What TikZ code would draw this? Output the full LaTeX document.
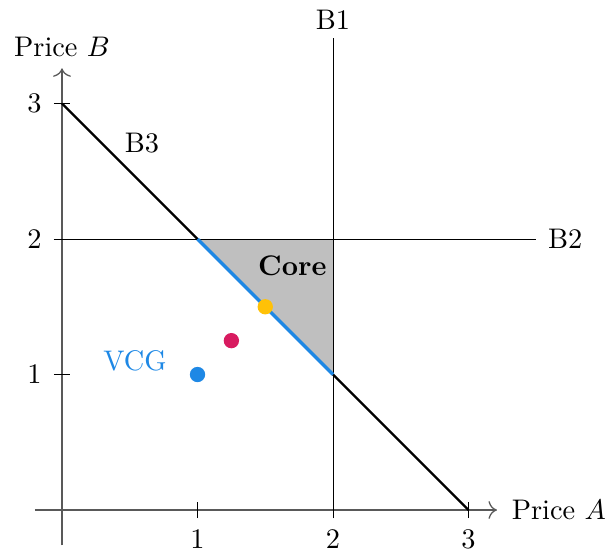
\documentclass[tikz,border=0pt]{standalone}
\usetikzlibrary{arrows.meta}
\definecolor{mblue}{RGB}{30,136,229}
\definecolor{mpink}{RGB}{216,27,96}
\definecolor{mamber}{RGB}{255,193,7}
\tikzset{
  axisline/.style={draw=black!65, line width=0.45pt, -{To[length=3pt]}},
  tickmark/.style={draw=black, line width=0.35pt},
  budget/.style={draw=black, line width=0.3pt},
  bthree/.style={draw=black, line width=0.8pt},
  dotmark/.style={circle, inner sep=0pt, minimum size=0.19cm},
}
\begin{document}
\begin{tikzpicture}[x=1.68cm, y=1.68cm]
\useasboundingbox (-0.4576,-0.3395) rectangle (4.059,3.764);
% core region
\coordinate (c12) at (1,2);
\coordinate (c22) at (2,2);
\coordinate (c21) at (2,1);
\fill[black!25] (c12) -- (c22) -- (c21) -- cycle;
% axes
\coordinate (xs) at (-0.2,0);
\coordinate (xe) at (3.21,0);
\coordinate (ys) at (0,-0.26);
\coordinate (ye) at (0,3.26);
\draw[axisline] (xs) -- (xe) node[right, inner sep=5pt] (xl) {Price $A$};
\draw[axisline] (ys) -- (ye) node[above, inner sep=4pt] (yl) {Price $B$};
% ticks
\foreach \i in {1,2,3} {
  \draw[tickmark] (\i,-0.06) -- (\i,0.06);
  \node[below, inner sep=0pt, yshift=-7pt] (xt\i) at (\i,0) {$\i$};
  \draw[tickmark] (-0.06,\i) -- (0.06,\i);
  \node[left, inner sep=0pt, xshift=-7pt] (yt\i) at (0,\i) {$\i$};
}
% budget lines
\coordinate (b1s) at (2,-0.06);
\coordinate (b1e) at (2,3.48);
\draw[budget] (b1s) -- (b1e) node[above, inner sep=3pt] (b1l) {B1};
\coordinate (b2s) at (-0.06,2);
\coordinate (b2e) at (3.5,2);
\draw[budget] (b2s) -- (b2e) node[right, inner sep=4pt] (b2l) {B2};
\coordinate (b3s) at (0,3);
\coordinate (b3e) at (3,0);
\draw[bthree] (b3s) -- (b3e);
\node (b3l) at (0.59,2.71) {B3};
% core boundary
\draw[mblue, line width=1.2pt] (c12) -- (c21);
\node[font=\bfseries] (core) at (1.70,1.80) {Core};
% points
\node[dotmark, fill=mamber] (p1) at (1.5,1.5) {};
\node[dotmark, fill=mpink] (p2) at (1.25,1.25) {};
\node[dotmark, fill=mblue] (p3) at (1,1) {};
\node[text=mblue] (vcg) at (0.539,1.10) {VCG};
\end{tikzpicture}
\end{document}
